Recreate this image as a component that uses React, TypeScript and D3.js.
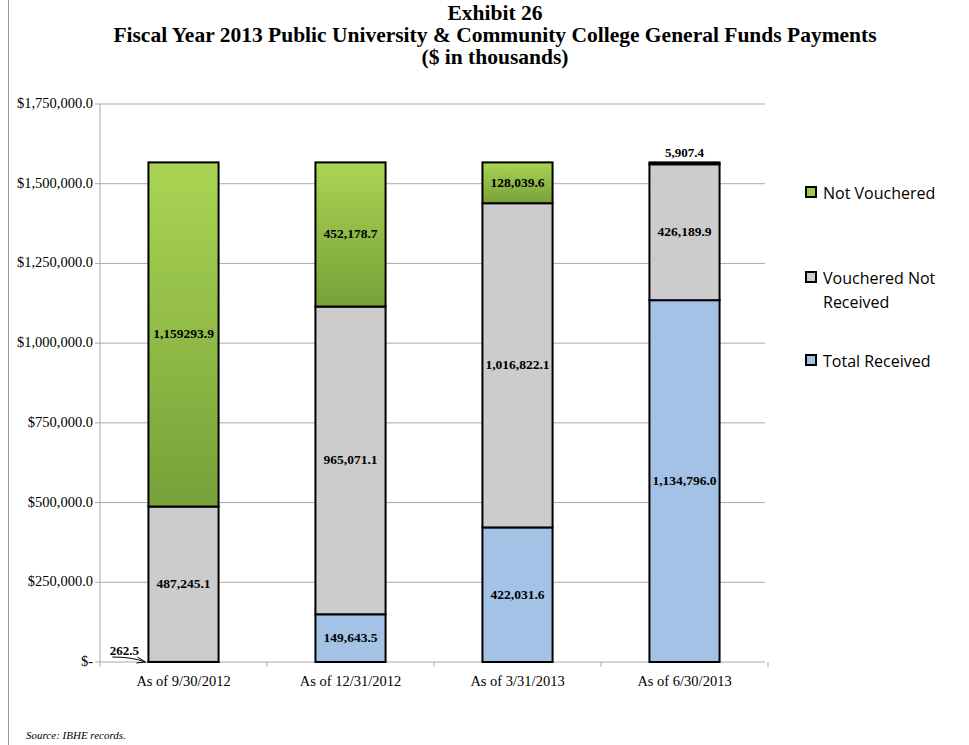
import * as d3 from "d3";

const categories = ["As of 9/30/2012", "As of 12/31/2012", "As of 3/31/2013", "As of 6/30/2013"];
const totalReceived = [262.5, 149643.5, 422031.6, 1134796.0];
const voucheredNotReceived = [487245.1, 965071.1, 1016822.1, 426189.9];
// drawn height of the first green bar (its printed label differs)
const notVouchered = [1079385.0, 452178.7, 128039.6, 5907.4];
const labelsReceived = ["262.5", "149,643.5", "422,031.6", "1,134,796.0"];
const labelsVNR = ["487,245.1", "965,071.1", "1,016,822.1", "426,189.9"];
const labelsNV = ["1,159293.9", "452,178.7", "128,039.6", "5,907.4"];
const yTicks = [0, 250000, 500000, 750000, 1000000, 1250000, 1500000, 1750000];

const W = 969, H = 745;
const x0 = 100, x1 = 768, yTop = 104, yBot = 662;

export default function App() {
  const x = d3.scaleBand().domain(categories).range([x0, x1]).paddingInner(0.58).paddingOuter(0.29);
  const y = d3.scaleLinear().domain([0, 1750000]).range([yBot, yTop]);
  const fmt = (v: number) => (v === 0 ? "$-" : "$" + d3.format(",.1f")(v));
  const serif = "'Liberation Serif', 'Times New Roman', serif";
  const sans = "'Open Sans', 'Liberation Sans', sans-serif";
  const legend = [
    { lines: ["Not Vouchered"], color: "#9ccc4a", y: 193 },
    { lines: ["Vouchered Not", "Received"], color: "#cccccc", y: 278 },
    { lines: ["Total Received"], color: "#a4c2e6", y: 361 },
  ];
  return (
    <svg width={W} height={H} style={{ position: "absolute", left: 0, top: 0 }}>
      <defs>
        <linearGradient id="g" x1="0" y1="0" x2="0" y2="1">
          <stop offset="0" stopColor="#aad553" />
          <stop offset="1" stopColor="#77a139" />
        </linearGradient>
      </defs>
      <rect width={W} height={H} fill="#fff" />
      <line x1={8.5} x2={8.5} y1={0} y2={H} stroke="#999" />
      <g fontFamily={serif} fontWeight="bold" fontSize={21.5} textAnchor="middle" fill="#000">
        <text x={495} y={20}>Exhibit 26</text>
        <text x={495} y={42}>Fiscal Year 2013 Public University &amp; Community College General Funds Payments</text>
        <text x={495} y={64}>($ in thousands)</text>
      </g>
      {yTicks.map((t) => (
        <g key={t}>
          <line x1={x0} x2={765} y1={y(t)} y2={y(t)} stroke="#aaa" strokeWidth={1} />
          <line x1={x0 - 5} x2={x0} y1={y(t)} y2={y(t)} stroke="#aaa" />
          <text x={93} y={y(t) + 4} textAnchor="end" fontFamily={serif} fontSize={14.5}>{fmt(t)}</text>
        </g>
      ))}
      <line x1={x0} x2={x0} y1={yTop} y2={yBot} stroke="#aaa" />
      {[0, 1, 2, 3, 4].map((i) => {
        const xx = x0 + (i * (x1 - x0)) / 4;
        return <line key={i} x1={xx} x2={xx} y1={yBot} y2={yBot + 5} stroke="#aaa" />;
      })}
      {categories.map((c, i) => {
        const bx = x(c)!, bw = x.bandwidth(), cx = bx + bw / 2;
        const s = [
          { v0: 0, v1: totalReceived[i], fill: "#a4c2e6", lab: labelsReceived[i] },
          { v0: totalReceived[i], v1: totalReceived[i] + voucheredNotReceived[i], fill: "#cccccc", lab: labelsVNR[i] },
          {
            v0: totalReceived[i] + voucheredNotReceived[i],
            v1: totalReceived[i] + voucheredNotReceived[i] + notVouchered[i],
            fill: "url(#g)",
            lab: labelsNV[i],
          },
        ];
        return (
          <g key={c}>
            {s.map((seg, k) => (
              <rect key={k} x={bx} y={y(seg.v1)} width={bw} height={y(seg.v0) - y(seg.v1)} fill={seg.fill} stroke="#000" strokeWidth={2} />
            ))}
            {s.map((seg, k) => {
              const small = y(seg.v0) - y(seg.v1) < 12;
              if (small && k === 0) {
                return (
                  <g key={"l" + k}>
                    <text x={bx - 24} y={y(seg.v1) - 7} textAnchor="middle" fontFamily={serif} fontWeight="bold" fontSize={13}>{seg.lab}</text>
                    <path d={`M${bx - 36},${y(0) - 5} Q${bx - 16},${y(0) - 5} ${bx - 3},${y(0)}`} fill="none" stroke="#000" />
                    <path d={`M${bx - 11},${y(0) - 5} L${bx - 3},${y(0)} L${bx - 12},${y(0) + 1}`} fill="none" stroke="#000" />
                  </g>
                );
              }
              if (small) {
                return <text key={"l" + k} x={cx} y={y(seg.v1) - 5} textAnchor="middle" fontFamily={serif} fontWeight="bold" fontSize={13}>{seg.lab}</text>;
              }
              return (
                <text key={"l" + k} x={cx} y={(y(seg.v0) + y(seg.v1)) / 2 + 4} textAnchor="middle" fontFamily={serif} fontWeight="bold" fontSize={13.5}>{seg.lab}</text>
              );
            })}
            <text x={cx} y={686} textAnchor="middle" fontFamily={serif} fontSize={14.5}>{c}</text>
          </g>
        );
      })}
      {legend.map((l) => (
        <g key={l.lines[0]}>
          <rect x={806} y={l.y - 6} width={10} height={10} fill={l.color} stroke="#000" strokeWidth={2} />
          {l.lines.map((t, j) => (
            <text key={t} x={823} y={l.y + 6 + j * 24} fontFamily={sans} fontSize={16}>{t}</text>
          ))}
        </g>
      ))}
      <text x={26} y={739} fontFamily={serif} fontStyle="italic" fontSize={11}>Source:  IBHE  records.</text>
    </svg>
  );
}
